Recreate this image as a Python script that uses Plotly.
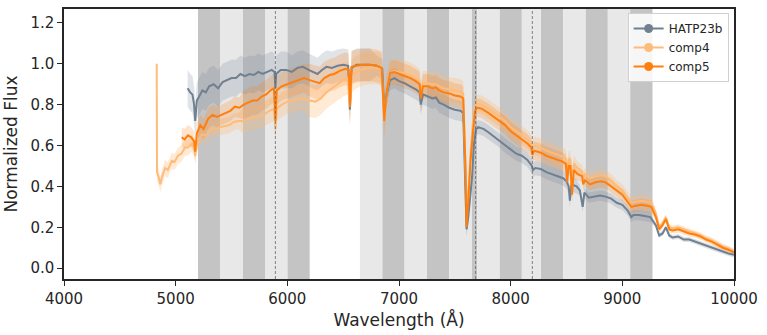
import numpy as np
import plotly.graph_objects as go

# ---------------- data ----------------
hat_wave = [5107, 5130, 5150, 5165, 5175, 5190, 5210, 5240, 5270, 5300, 5340, 5380, 5420, 5460, 5500,
            5540, 5580, 5620, 5660, 5700, 5740, 5780, 5820, 5860, 5885, 5893, 5900, 5940, 5990, 6040,
            6090, 6140, 6190, 6240, 6270, 6310, 6350, 6400, 6450, 6500, 6545, 6560, 6575, 6620, 6680,
            6740, 6800, 6850, 6870, 6885, 6920, 6960, 7000, 7050, 7100, 7150, 7185, 7195, 7215, 7260,
            7300, 7330, 7360, 7400, 7450, 7500, 7550, 7575, 7595, 7605, 7620, 7640, 7655, 7670, 7690,
            7710, 7760, 7800, 7860, 7900, 7950, 8000, 8050, 8100, 8150, 8190, 8200, 8220, 8270, 8320,
            8370, 8420, 8470, 8500, 8520, 8530, 8545, 8590, 8620, 8645, 8660, 8700, 8750, 8800, 8850,
            8900, 8950, 9000, 9050, 9080, 9100, 9150, 9200, 9250, 9300, 9330, 9360, 9390, 9420, 9450,
            9500, 9550, 9600, 9650, 9700, 9750, 9800, 9850, 9900, 9950, 10000]
hat_flux = [0.88, 0.86, 0.85, 0.80, 0.72, 0.82, 0.84, 0.87, 0.86, 0.89, 0.90, 0.88, 0.91, 0.92, 0.93,
            0.93, 0.95, 0.94, 0.95, 0.945, 0.96, 0.95, 0.96, 0.97, 0.96, 0.88, 0.95, 0.97, 0.97, 0.96,
            0.98, 0.985, 0.97, 0.955, 0.95, 0.97, 0.985, 0.98, 0.99, 0.995, 0.99, 0.775, 0.98, 0.995, 0.995,
            0.995, 0.99, 0.975, 0.76, 0.84, 0.92, 0.93, 0.915, 0.905, 0.89, 0.875, 0.86, 0.80, 0.85, 0.84,
            0.83, 0.835, 0.81, 0.80, 0.785, 0.775, 0.77, 0.76, 0.45, 0.19, 0.25, 0.36, 0.45, 0.60, 0.68,
            0.69, 0.68, 0.665, 0.64, 0.625, 0.60, 0.58, 0.56, 0.55, 0.53, 0.50, 0.48, 0.49, 0.485, 0.47,
            0.46, 0.45, 0.44, 0.425, 0.40, 0.33, 0.41, 0.40, 0.38, 0.30, 0.37, 0.345, 0.35, 0.355, 0.35,
            0.34, 0.32, 0.31, 0.28, 0.25, 0.26, 0.26, 0.255, 0.25, 0.21, 0.16, 0.17, 0.20, 0.16, 0.15,
            0.155, 0.14, 0.14, 0.13, 0.12, 0.11, 0.10, 0.09, 0.08, 0.072, 0.065]

comp5_wave = [5054, 5080, 5110, 5140, 5165, 5175, 5190, 5220, 5250, 5290, 5330, 5370, 5410, 5450, 5490,
              5530, 5570, 5610, 5650, 5690, 5730, 5770, 5810, 5850, 5880, 5893, 5905, 5950, 6000, 6050,
              6100, 6150, 6200, 6250, 6290, 6330, 6380, 6420, 6470, 6520, 6550, 6562, 6575, 6620, 6680,
              6740, 6800, 6845, 6868, 6885, 6920, 6960, 7000, 7050, 7100, 7150, 7185, 7195, 7215, 7260,
              7300, 7330, 7360, 7400, 7450, 7500, 7550, 7575, 7595, 7605, 7620, 7640, 7660, 7680, 7700,
              7740, 7800, 7860, 7900, 7950, 8000, 8050, 8100, 8150, 8185, 8195, 8210, 8270, 8320, 8370,
              8420, 8470, 8495, 8505, 8520, 8535, 8550, 8565, 8600, 8640, 8650, 8665, 8710, 8760, 8810,
              8850, 8900, 8950, 9000, 9040, 9080, 9120, 9170, 9220, 9260, 9300, 9330, 9360, 9390, 9420,
              9450, 9500, 9550, 9600, 9650, 9700, 9750, 9800, 9850, 9900, 9950, 10000]
comp5_flux = [0.64, 0.63, 0.65, 0.64, 0.62, 0.57, 0.66, 0.70, 0.68, 0.73, 0.75, 0.74, 0.75, 0.76, 0.77,
              0.79, 0.785, 0.80, 0.81, 0.82, 0.82, 0.84, 0.85, 0.87, 0.88, 0.72, 0.87, 0.89, 0.90, 0.91,
              0.92, 0.93, 0.92, 0.91, 0.905, 0.93, 0.945, 0.95, 0.965, 0.975, 0.97, 0.79, 0.985, 0.99, 0.995,
              0.995, 0.99, 0.98, 0.72, 0.85, 0.955, 0.96, 0.95, 0.94, 0.93, 0.915, 0.90, 0.83, 0.89, 0.89,
              0.88, 0.885, 0.87, 0.86, 0.855, 0.845, 0.84, 0.83, 0.50, 0.20, 0.32, 0.52, 0.65, 0.77, 0.785,
              0.78, 0.76, 0.735, 0.72, 0.70, 0.67, 0.65, 0.63, 0.61, 0.59, 0.555, 0.575, 0.565, 0.55, 0.54,
              0.53, 0.52, 0.51, 0.42, 0.50, 0.50, 0.36, 0.48, 0.46, 0.45, 0.41, 0.43, 0.41, 0.42, 0.425,
              0.42, 0.40, 0.38, 0.36, 0.33, 0.30, 0.305, 0.31, 0.305, 0.30, 0.25, 0.19, 0.21, 0.24, 0.19,
              0.185, 0.19, 0.18, 0.17, 0.165, 0.155, 0.14, 0.13, 0.115, 0.10, 0.09, 0.078]

comp4_wave = [4830, 4833, 4850, 4862, 4880, 4905, 4930, 4965, 4990, 5020, 5050, 5085, 5110, 5145, 5165,
              5175, 5195, 5235, 5270, 5320, 5360, 5400, 5440, 5480, 5520, 5560, 5600, 5640, 5680, 5720,
              5760, 5800, 5840, 5880, 5893, 5905, 5950, 6000, 6050, 6100, 6150, 6200, 6250, 6300, 6350,
              6400, 6450, 6500, 6540, 6560, 6578, 6620, 6680, 6740, 6800, 6845, 6868, 6885, 6920, 6960,
              7000, 7050, 7100, 7150, 7185, 7195, 7215, 7260, 7300, 7330, 7360, 7400, 7450, 7500, 7550,
              7575, 7595, 7605, 7620, 7640, 7660, 7680, 7700, 7740, 7800, 7860, 7900, 7950, 8000, 8050,
              8100, 8150, 8185, 8195, 8210, 8270, 8320, 8370, 8420, 8470, 8495, 8505, 8520, 8535, 8550,
              8565, 8600, 8640, 8650, 8665, 8710, 8760, 8810, 8850, 8900, 8950, 9000, 9040, 9080, 9120,
              9170, 9220, 9260, 9300, 9330, 9360, 9390, 9420, 9450, 9500, 9550, 9600, 9650, 9700, 9750,
              9800, 9850, 9900, 9950, 10000]
comp4_flux = [1.00, 0.47, 0.44, 0.41, 0.45, 0.49, 0.48, 0.525, 0.52, 0.55, 0.56, 0.59, 0.59, 0.61, 0.59,
              0.55, 0.62, 0.655, 0.65, 0.685, 0.68, 0.69, 0.695, 0.70, 0.715, 0.72, 0.72, 0.73, 0.735, 0.74,
              0.745, 0.755, 0.77, 0.78, 0.68, 0.78, 0.80, 0.815, 0.82, 0.83, 0.83, 0.82, 0.815, 0.83, 0.86,
              0.88, 0.90, 0.92, 0.93, 0.79, 0.94, 0.96, 0.975, 0.98, 0.98, 0.97, 0.72, 0.85, 0.955, 0.965,
              0.96, 0.955, 0.945, 0.93, 0.915, 0.85, 0.905, 0.905, 0.90, 0.90, 0.89, 0.88, 0.875, 0.87, 0.865,
              0.855, 0.55, 0.33, 0.34, 0.56, 0.70, 0.79, 0.805, 0.80, 0.78, 0.755, 0.74, 0.72, 0.69, 0.67,
              0.65, 0.63, 0.61, 0.58, 0.60, 0.59, 0.575, 0.565, 0.555, 0.545, 0.535, 0.47, 0.53, 0.53, 0.40,
              0.51, 0.49, 0.475, 0.44, 0.46, 0.44, 0.45, 0.455, 0.45, 0.43, 0.40, 0.38, 0.35, 0.32, 0.325,
              0.33, 0.325, 0.32, 0.27, 0.20, 0.22, 0.25, 0.20, 0.195, 0.20, 0.19, 0.18, 0.17, 0.16, 0.145,
              0.135, 0.12, 0.105, 0.095, 0.08]

# uncertainty half-widths, read per wavelength segment
hat_err_edges = [5100, 6000, 6800, 7600, 8600, 9300, 10001]
hat_err_vals = [0.09, 0.08, 0.05, 0.035, 0.025, 0.012]
comp5_err_edges = [5000, 5600, 6200, 6900, 7600, 8600, 9300, 10001]
comp5_err_vals = [0.05, 0.07, 0.08, 0.06, 0.045, 0.03, 0.015]
comp4_err_edges = [4800, 5600, 6200, 6900, 7600, 8600, 9300, 10001]
comp4_err_vals = [0.04, 0.06, 0.08, 0.06, 0.045, 0.03, 0.015]

# shaded wavelength bins (start, end)
dark_bins = [(5200, 5400), (5600, 5800), (6000, 6200), (6850, 7050), (7250, 7450), (7650, 7700),
             (7900, 8100), (8270, 8470), (8670, 8870), (9070, 9270)]
light_bins = [(5400, 5600), (5800, 6000), (6650, 6850), (7050, 7250), (7450, 7650), (7700, 7900),
              (8100, 8270), (8470, 8670), (8870, 9070)]
line_marks = [5893, 7686, 8194]

x_ticks = [4000, 5000, 6000, 7000, 8000, 9000, 10000]
y_ticks = [0.0, 0.2, 0.4, 0.6, 0.8, 1.0, 1.2]

series = [
    ("HATP23b", hat_wave, hat_flux, hat_err_edges, hat_err_vals, "#708090", "rgba(112,128,144,0.22)"),
    ("comp4", comp4_wave, comp4_flux, comp4_err_edges, comp4_err_vals, "#ffbb78", "rgba(255,187,120,0.30)"),
    ("comp5", comp5_wave, comp5_flux, comp5_err_edges, comp5_err_vals, "#ff7f0e", "rgba(255,127,14,0.22)"),
]

fig = go.Figure()

# uncertainty bands
for name, w, f, edges, vals, col, fcol in series:
    w = np.asarray(w, float)
    f = np.asarray(f, float)
    idx = np.clip(np.searchsorted(edges, w, side="right") - 1, 0, len(vals) - 1)
    e = np.asarray(vals)[idx]
    xs = np.concatenate([w, w[::-1]])
    ys = np.concatenate([f + e, (f - e)[::-1]])
    fig.add_trace(go.Scatter(x=xs, y=ys, fill="toself", fillcolor=fcol, mode="lines",
                             line=dict(width=0), hoverinfo="skip", showlegend=False))

# lines
for name, w, f, edges, vals, col, fcol in series:
    fig.add_trace(go.Scatter(x=w, y=f, mode="lines", line=dict(color=col, width=2),
                             name=name, showlegend=False))

# legend entries (line + marker)
for name, w, f, edges, vals, col, fcol in series:
    fig.add_trace(go.Scatter(x=[None], y=[None], mode="lines+markers", name=name,
                             line=dict(color=col, width=2), marker=dict(color=col, size=9)))

shapes = []
for a, b in dark_bins:
    shapes.append(dict(type="rect", xref="x", yref="paper", x0=a, x1=b, y0=0, y1=1,
                       fillcolor="#c4c4c4", line=dict(width=0), layer="below"))
for a, b in light_bins:
    shapes.append(dict(type="rect", xref="x", yref="paper", x0=a, x1=b, y0=0, y1=1,
                       fillcolor="#e8e8e8", line=dict(width=0), layer="below"))
for xv in line_marks:
    shapes.append(dict(type="line", xref="x", yref="paper", x0=xv, x1=xv, y0=0, y1=1,
                       line=dict(color="#666666", width=0.8, dash="3px,2px"), layer="above"))

axis_common = dict(showgrid=False, zeroline=False, showline=True, mirror=True,
                   linecolor="#262626", linewidth=1.5, ticks="outside", ticklen=5,
                   tickcolor="#262626", tickwidth=1.2,
                   tickfont=dict(family="DejaVu Sans", size=15, color="#262626"))

fig.update_layout(
    width=767, height=335,
    margin=dict(l=64, r=33, t=7, b=56),
    paper_bgcolor="white", plot_bgcolor="white",
    shapes=shapes,
    font=dict(family="DejaVu Sans", color="#262626"),
    xaxis=dict(range=[4000, 10000], tickvals=x_ticks, ticktext=[str(v) for v in x_ticks],
               title=dict(text="Wavelength (Å)", font=dict(size=17), standoff=7), **axis_common),
    yaxis=dict(range=[-0.053, 1.268], tickvals=y_ticks, ticktext=[f"{v:.1f}" for v in y_ticks],
               title=dict(text="Normalized Flux", font=dict(size=17), standoff=8), **axis_common),
    legend=dict(x=0.992, y=0.985, xanchor="right", yanchor="top",
                bgcolor="rgba(255,255,255,0.85)", bordercolor="#d0d0d0", borderwidth=1,
                font=dict(size=12, color="#262626"), itemwidth=30, tracegroupgap=0),
    showlegend=True,
)

fig.write_html("out.html")
